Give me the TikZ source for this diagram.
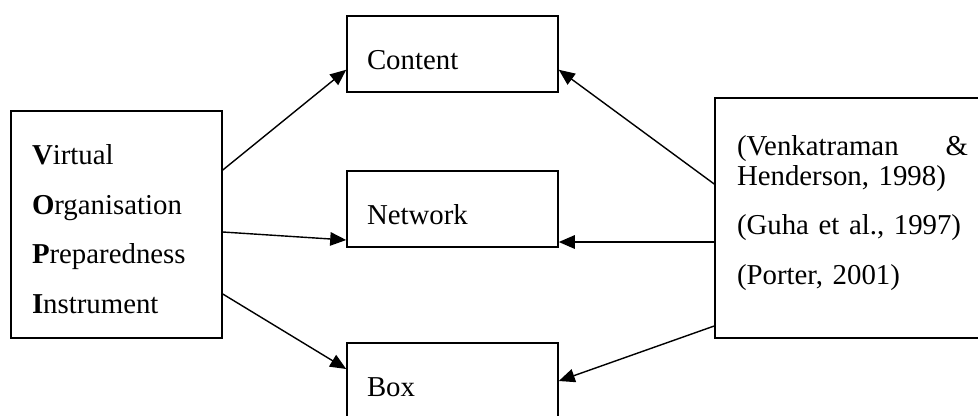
\documentclass[tikz,border=0pt]{standalone}
\usepackage{fontspec}
\setmainfont{Liberation Serif}
\usetikzlibrary{arrows.meta}

\begin{document}
\begin{tikzpicture}[
		every node/.style={font=\fontsize{16.4}{28.45}\selectfont},
		block/.style={draw, line width=0.9pt, minimum width=4.22cm, minimum height=1.52cm, inner xsep=0.4cm, inner ysep=0pt, text width=3.42cm, align=left, text height=0.72cm, text depth=0.1cm},
		arr/.style={-{Triangle[length=0.32cm,width=0.27cm]}, line width=0.8pt}]
		\useasboundingbox (0,0) rectangle (19.56,-8.3);
		\clip (0,0) rectangle (19.56,-8.3);
		
		\node[block, minimum height=4.54cm, inner xsep=0.42cm, text width=3.38cm, text height=0.58cm, text depth=3cm] at (2.33,-4.49) (vopi)
			{\textbf{V}irtual\\\textbf{O}rganisation\\\textbf{P}reparedness\\\textbf{I}nstrument};
		\node[block] at (9.05,-1.085) (content) {Content};
		\node[block] at (9.05,-4.18) (network) {Network};
		\node[block] at (9.05,-7.62) (box) {Box};
		\node[block, minimum width=5.5cm, minimum height=4.8cm, inner xsep=0.44cm, text width=4.62cm, text height=0.48cm, text depth=3cm] at (17.05,-4.36) (refs)
			{(Venkatraman\hskip 0pt plus 1filll\&\\[-0.4cm]Henderson, 1998)\\(Guha et al., 1997)\\(Porter, 2001)};
		
		\draw[arr] ([yshift=1.09cm]vopi.east) -- ([yshift=-0.31cm]content.west);
		\draw[arr] ([yshift=-0.15cm]vopi.east) -- ([yshift=-0.62cm]network.west);
		\draw[arr] ([yshift=-1.39cm]vopi.east) -- ([yshift=0.24cm]box.west);
		
		\draw[arr] ([yshift=0.68cm]refs.west) -- ([yshift=-0.31cm]content.east);
		\draw[arr] ([yshift=-0.48cm]refs.west) -- ([yshift=-0.66cm]network.east);
		\draw[arr] ([yshift=-2.16cm]refs.west) -- (box.east);
\end{tikzpicture}
\end{document}
